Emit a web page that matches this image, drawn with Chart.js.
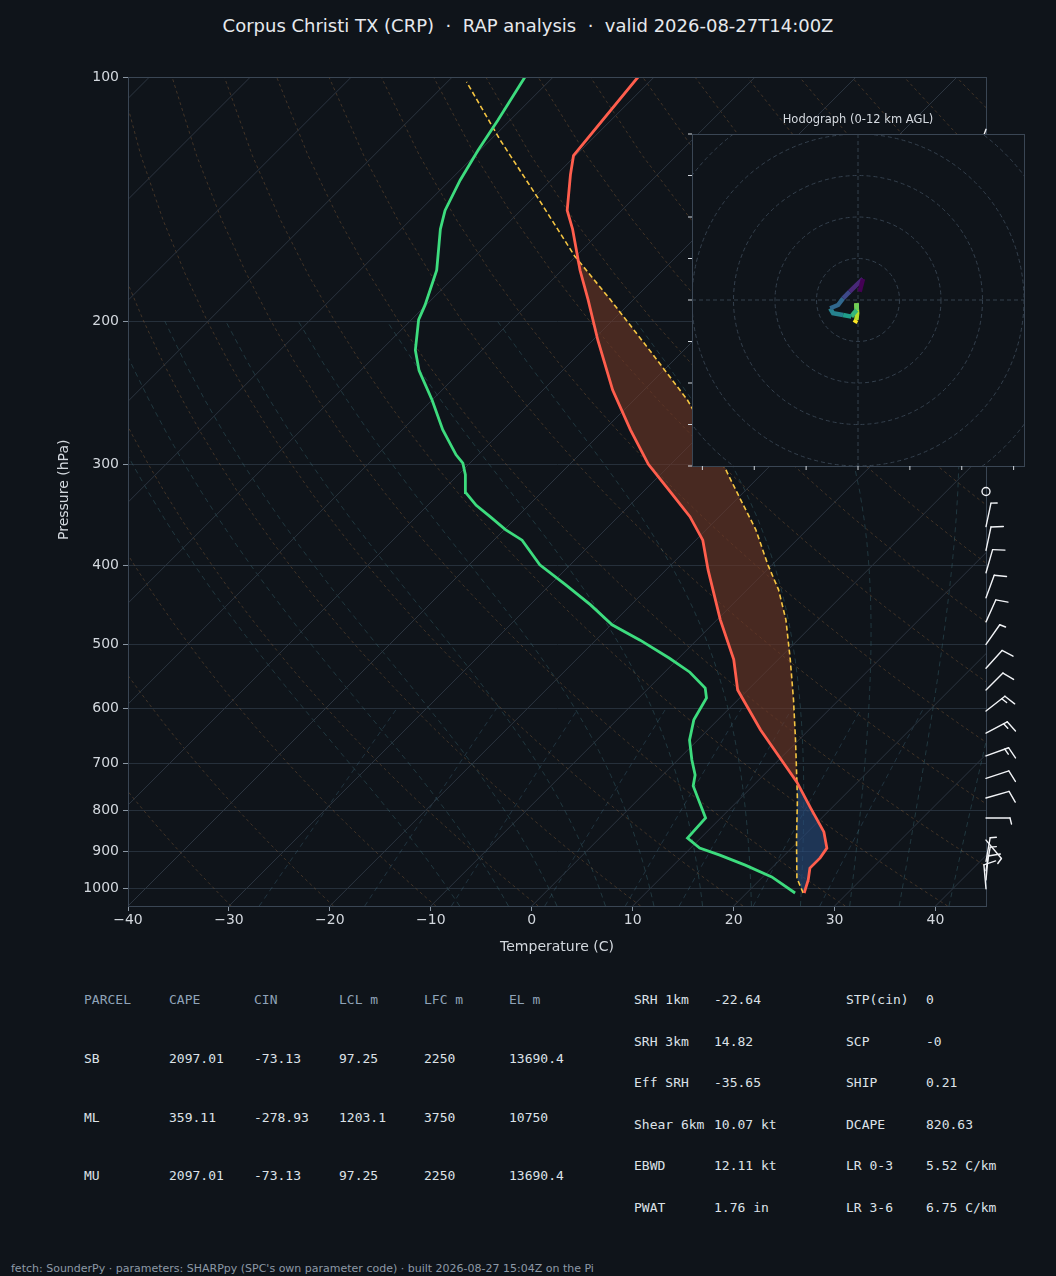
<!DOCTYPE html>
<html>
<head>
<meta charset="utf-8">
<script src="https://cdn.jsdelivr.net/npm/chart.js@4"></script>
<style>
  body { margin: 0; background: #0f141a; width: 1056px; height: 1276px; position: relative; overflow: hidden; font-family: "DejaVu Sans", sans-serif; }
  #skew { position: absolute; left: 0; top: 0; }
  #hodo { position: absolute; left: 682px; top: 124px; }
  .t { position: absolute; white-space: pre; }
  .mono { font-family: "DejaVu Sans Mono", monospace; font-size: 13px; color: #dde2e8; }
  .hd { color: #8fa3b8; }
</style>
</head>
<body>
<div class="t" style="left:0;width:1056px;text-align:center;top:15px;font-size:18px;color:#e6e9ed;">Corpus Christi TX (CRP)  ·  RAP analysis  ·  valid 2026-08-27T14:00Z</div>
<canvas id="skew" width="1056" height="960"></canvas>
<div class="t" style="left:13px;top:482px;width:100px;text-align:center;font-size:14px;color:#d3d8de;transform:rotate(-90deg);">Pressure (hPa)</div>
<div class="t" style="left:692px;width:332px;text-align:center;top:112px;font-size:11.5px;color:#d5dae0;">Hodograph (0-12 km AGL)</div>
<canvas id="hodo" width="352" height="352"></canvas>
<div id="table"></div>
<div class="t" style="left:11px;top:1262px;font-size:11px;color:#8d99a6;">fetch: SounderPy · parameters: SHARPpy (SPC's own parameter code) · built 2026-08-27 15:04Z on the Pi</div>
<script>
// sounding (hPa, C)
const tempP = [1012, 975, 943, 916, 891, 851, 795, 739, 637, 569, 522, 466, 405, 372, 348, 327, 300, 272, 243, 211, 188, 173, 154, 146, 132, 125, 100];
const tempT = [25.7, 24.8, 23.8, 23.8, 23.5, 21.6, 17.9, 14.0, 5.2, -1.0, -4.4, -9.7, -15.8, -19.3, -22.9, -26.8, -32.2, -37.4, -43.1, -49.5, -54.5, -58.2, -63.0, -65.4, -68.6, -70.2, -71.6];
const dewP = [1012, 967, 935, 909, 891, 866, 818, 747, 724, 694, 656, 619, 582, 566, 541, 520, 494, 473, 447, 422, 399, 372, 361, 348, 337, 325, 309, 299, 292, 272, 250, 230, 217, 199, 191, 173, 154, 146, 134, 123, 113, 100];
const dewT = [24.8, 20.9, 17.1, 13.6, 10.9, 8.7, 8.5, 4.1, 3.2, 1.4, -0.8, -2.4, -3.3, -4.4, -7.5, -10.9, -15.6, -19.9, -24.0, -28.5, -33.0, -37.2, -39.9, -42.7, -45.2, -47.5, -49.3, -50.7, -52.2, -56.0, -60.0, -64.2, -66.6, -69.3, -70.1, -72.4, -76.1, -77.5, -79.0, -80.2, -81.2, -82.8];
const parcelP = [1012, 970, 871, 777, 739, 656, 585, 522, 466, 428, 399, 361, 327, 296, 265, 250, 217, 188, 166, 142, 119.6, 101.4];
const parcelT = [25.6, 23.5, 19.7, 15.8, 14.0, 9.7, 5.5, 1.2, -3.2, -6.9, -10.4, -15.1, -20.3, -25.5, -31.5, -34.7, -43.4, -52.3, -60.2, -69.1, -79.0, -88.1];

// winds (kt)
const windP = [1000, 975, 950, 925, 871, 818, 773, 731, 686, 643, 604, 569, 535, 500, 469, 438, 408, 383, 358, 325, 250, 200, 150, 116];
const windDir = [355, 5, 10, 10, 140, 90, 74, 72, 70, 62, 52, 45, 42, 35, 24, 20, 16, 12, 12, 0, 210, 215, 215, 200];
const windSpd = [10, 10, 5, 5, 5, 5, 10, 10, 15, 15, 15, 10, 10, 5, 10, 10, 10, 10, 5, 0, 10, 10, 15, 5];

// hodograph, surface -> top
const hodoU = [-0.8, -0.4, -0.2, -0.4, -0.3, -1.0, -1.6, -3.6, -6.0, -6.7, -4.8, -3.6, -2.0, -0.4, 1.2, 0.4];
const hodoV = [-5.5, -4.8, -3.2, -0.8, -2.4, -3.2, -4.0, -3.6, -3.2, -2.0, -1.2, 0.4, 2.0, 3.6, 5.1, 2.0];

const xTicks = [-40, -30, -20, -10, 0, 10, 20, 30, 40];
const pTicks = [100, 200, 300, 400, 500, 600, 700, 800, 900, 1000];

const P_BOT = 1050, P_TOP = 100;
const AREA_W = 858, AREA_H = 829;
const K = 85 * AREA_H / (AREA_W * Math.log10(P_BOT / P_TOP));
const skewX = (t, p) => t + K * Math.log10(P_BOT / p);
const pts = (ps, ts) => ps.map((p, i) => ({ x: skewX(ts[i], p), y: p }));

// background reference lines
const bg = [];
function refLine(points, color, dash, width) {
  bg.push({ data: points, borderColor: color, borderDash: dash, borderWidth: width, pointRadius: 0, showLine: true, order: 10, clip: 0 });
}
const levels = [];
for (let p = 1050; p >= 100; p -= 25) levels.push(p);
for (let t = -120; t <= 40; t += 10) refLine([{ x: skewX(t, 1050), y: 1050 }, { x: skewX(t, 100), y: 100 }], '#2c3540', [], 1);
for (let th = 240; th <= 480; th += 10) refLine(levels.map(p => ({ x: skewX(th * Math.pow(p / 1000, 0.2857) - 273.15, p), y: p })), 'rgba(140,100,60,0.45)', [3, 3], 0.9);
function es(t) { return 6.112 * Math.exp(17.67 * t / (t + 243.5)); }
for (let t0 = -10; t0 <= 40; t0 += 5) {
  const out = [];
  let t = t0;
  for (let p = 1000; p < 1050; p += 1) {
    const tk = t + 273.15, rs = 0.622 * es(t) / (p - es(t));
    t += (287 * tk + 2.5e6 * rs) / (p * (1004 + 2.5e6 * 2.5e6 * rs * 0.622 / (287 * tk * tk)));
  }
  for (let p = 1050; p >= 200; p -= 1) {
    if (p % 25 === 0) out.push({ x: skewX(t, p), y: p });
    const tk = t + 273.15, rs = 0.622 * es(t) / (p - es(t));
    t -= (287 * tk + 2.5e6 * rs) / (p * (1004 + 2.5e6 * 2.5e6 * rs * 0.622 / (287 * tk * tk)));
  }
  refLine(out, 'rgba(60,110,120,0.45)', [5, 4], 0.9);
}
for (const w of [0.4, 1, 2, 4, 7, 10, 16, 24]) {
  const out = [];
  for (let p = 1050; p >= 600; p -= 50) {
    const e = w * p / (622 + w), l = Math.log(e / 6.112);
    out.push({ x: skewX(243.5 * l / (17.67 - l), p), y: p });
  }
  refLine(out, 'rgba(60,100,120,0.45)', [5, 4], 0.9);
}

// CAPE / CIN shapes from the profiles
const cape = pts(parcelP, parcelT).filter(o => o.y <= 739 && o.y >= 166)
  .concat(pts(tempP, tempT).filter(o => o.y < 739 && o.y > 166).reverse());
const cin = pts(parcelP, parcelT).filter(o => o.y >= 739)
  .concat(pts(tempP, tempT).filter(o => o.y > 739).reverse());

const frame = {
  id: 'frame',
  afterDatasetsDraw(chart) {
    const { ctx, chartArea: a, scales: { y } } = chart;
    ctx.save();
    ctx.strokeStyle = '#3a4654'; ctx.lineWidth = 1;
    ctx.strokeRect(a.left + 0.5, a.top + 0.5, a.right - a.left, a.bottom - a.top);
    // wind barbs
    ctx.strokeStyle = '#f2f4f7'; ctx.lineWidth = 1.4; ctx.lineCap = 'round';
    windP.forEach((p, i) => {
      const bx = a.right, by = y.getPixelForValue(p);
      if (windSpd[i] === 0) { ctx.beginPath(); ctx.arc(bx, by - 1, 4, 0, Math.PI * 2); ctx.stroke(); return; }
      const r = windDir[i] * Math.PI / 180;
      const sx = Math.sin(r), sy = -Math.cos(r);
      const L = 24, tx = bx + sx * L, ty = by + sy * L;
      ctx.beginPath(); ctx.moveTo(bx, by); ctx.lineTo(tx, ty); ctx.stroke();
      const px = -sy + 0.25 * sx, py = sx + 0.25 * sy;
      let s = windSpd[i], k = 0;
      while (s >= 5) {
        const len = s >= 10 ? 12 : 6;
        const ox = tx - sx * k * 4, oy = ty - sy * k * 4;
        ctx.beginPath(); ctx.moveTo(ox, oy); ctx.lineTo(ox + px * len, oy + py * len); ctx.stroke();
        s -= s >= 10 ? 10 : 5; k++;
      }
    });
    ctx.restore();
  }
};

const tickFont = { family: 'DejaVu Sans', size: 14 };
new Chart(document.getElementById('skew'), {
  type: 'scatter',
  data: {
    datasets: bg.concat([
      { data: cape, showLine: true, fill: 'shape', backgroundColor: 'rgba(110,55,38,0.6)', borderWidth: 0, pointRadius: 0, order: 5, clip: 0 },
      { data: cin, showLine: true, fill: 'shape', backgroundColor: 'rgba(40,75,125,0.6)', borderWidth: 0, pointRadius: 0, order: 5, clip: 0 },
      { data: pts(parcelP, parcelT), showLine: true, borderColor: '#f5c542', borderWidth: 1.6, borderDash: [5, 3], pointRadius: 0, order: 2, clip: 0 },
      { data: pts(dewP, dewT), showLine: true, borderColor: '#3ddc7e', borderWidth: 2.8, pointRadius: 0, order: 1 },
      { data: pts(tempP, tempT), showLine: true, borderColor: '#ff5e4d', borderWidth: 2.8, pointRadius: 0, order: 1 }
    ])
  },
  options: {
    responsive: false, animation: false, devicePixelRatio: 1,
    layout: { padding: { top: 77, right: 70, left: 0, bottom: 0 } },
    plugins: { legend: { display: false }, tooltip: { enabled: false } },
    scales: {
      x: {
        type: 'linear', min: -40, max: 45,
        afterBuildTicks: s => { s.ticks = xTicks.map(v => ({ value: v })); },
        afterFit: s => { s.height = 54; },
        grid: { drawOnChartArea: false, color: '#8a96a3', tickLength: 5 },
        border: { color: '#3a4654' },
        ticks: { color: '#d3d8de', font: tickFont, padding: 1, callback: v => String(v).replace('-', '\u2212') },
        title: { display: true, text: 'Temperature (C)', color: '#d3d8de', font: tickFont, padding: { top: 0 } }
      },
      y: {
        type: 'logarithmic', reverse: true, min: P_TOP, max: P_BOT,
        afterBuildTicks: s => { s.ticks = pTicks.map(v => ({ value: v })); },
        afterFit: s => { s.width = 128; },
        grid: { color: '#26303b', tickLength: 5, tickColor: '#8a96a3' },
        border: { color: '#3a4654' },
        ticks: { color: '#d3d8de', font: tickFont, padding: 4, callback: v => String(v) }
      }
    }
  },
  plugins: [frame]
});

// hodograph inset
const viridis = ['#fde725', '#b5de2b', '#6ece58', '#35b779', '#1f9e89', '#26828e', '#31688e', '#3e4989', '#482878', '#440154'];
const hodoFrame = {
  id: 'hodoFrame',
  beforeDatasetsDraw(chart) {
    const { ctx, chartArea: a, scales: { x, y } } = chart;
    ctx.save();
    ctx.fillStyle = '#0f141a'; ctx.fillRect(a.left, a.top, a.right - a.left, a.bottom - a.top);
    ctx.beginPath(); ctx.rect(a.left, a.top, a.right - a.left, a.bottom - a.top); ctx.clip();
    const cx = x.getPixelForValue(0), cy = y.getPixelForValue(0), u = x.getPixelForValue(10) - cx;
    ctx.strokeStyle = '#34404d'; ctx.lineWidth = 1; ctx.setLineDash([4, 3]);
    for (let r = 1; r <= 6; r++) { ctx.beginPath(); ctx.arc(cx, cy, r * u, 0, Math.PI * 2); ctx.stroke(); }
    ctx.beginPath(); ctx.moveTo(a.left, cy); ctx.lineTo(a.right, cy); ctx.moveTo(cx, a.top); ctx.lineTo(cx, a.bottom); ctx.stroke();
    ctx.restore();
    ctx.save();
    ctx.strokeStyle = '#3a4654'; ctx.strokeRect(a.left + 0.5, a.top + 0.5, a.right - a.left, a.bottom - a.top);
    ctx.strokeStyle = '#d3d8de';
    ctx.beginPath();
    for (let v = -40; v <= 40; v += 10) { const py = y.getPixelForValue(v); ctx.moveTo(a.left, py); ctx.lineTo(a.left - 4, py); }
    for (let v = -37.5; v <= 40; v += 12.5) { const px = x.getPixelForValue(v); ctx.moveTo(px, a.bottom); ctx.lineTo(px, a.bottom + 4); }
    ctx.stroke();
    ctx.restore();
  }
};
new Chart(document.getElementById('hodo'), {
  type: 'scatter',
  data: {
    datasets: [{
      data: hodoU.map((u, i) => ({ x: u, y: hodoV[i] })), showLine: true, borderWidth: 4.5, pointRadius: 0,
      segment: { borderColor: c => viridis[Math.round(c.p0DataIndex / (hodoU.length - 2) * (viridis.length - 1))] }
    }]
  },
  options: {
    responsive: false, animation: false, devicePixelRatio: 1,
    layout: { padding: 10 },
    plugins: { legend: { display: false }, tooltip: { enabled: false } },
    scales: { x: { display: false, min: -40, max: 40 }, y: { display: false, min: -40, max: 40 } }
  },
  plugins: [hodoFrame]
});

// parameter table
const parcelNames = ['SB', 'ML', 'MU'];
const capeVals = ['2097.01', '359.11', '2097.01'];
const cinVals = ['-73.13', '-278.93', '-73.13'];
const lclVals = ['97.25', '1203.1', '97.25'];
const lfcVals = ['2250', '3750', '2250'];
const elVals = ['13690.4', '10750', '13690.4'];
const midLabels = ['SRH 1km', 'SRH 3km', 'Eff SRH', 'Shear 6km', 'EBWD', 'PWAT'];
const midVals = ['-22.64', '14.82', '-35.65', '10.07 kt', '12.11 kt', '1.76 in'];
const rightLabels = ['STP(cin)', 'SCP', 'SHIP', 'DCAPE', 'LR 0-3', 'LR 3-6'];
const rightVals = ['0', '-0', '0.21', '820.63', '5.52 C/km', '6.75 C/km'];

let html = '';
const put = (x, y, s, cls) => { html += `<div class="t mono ${cls || ''}" style="left:${x}px;top:${y - 8}px">${s}</div>`; };
const colX = [84, 169, 254, 339, 424, 509];
['PARCEL', 'CAPE', 'CIN', 'LCL m', 'LFC m', 'EL m'].forEach((h, i) => put(colX[i], 1000, h, 'hd'));
parcelNames.forEach((n, r) => {
  const yy = 1059 + r * 58.5;
  [n, capeVals[r], cinVals[r], lclVals[r], lfcVals[r], elVals[r]].forEach((v, i) => put(colX[i], yy, v));
});
midLabels.forEach((l, r) => {
  const yy = 1000 + r * 41.5;
  put(634, yy, l); put(714, yy, midVals[r]);
  put(846, yy, rightLabels[r]); put(926, yy, rightVals[r]);
});
document.getElementById('table').innerHTML = html;
</script>
</body>
</html>
